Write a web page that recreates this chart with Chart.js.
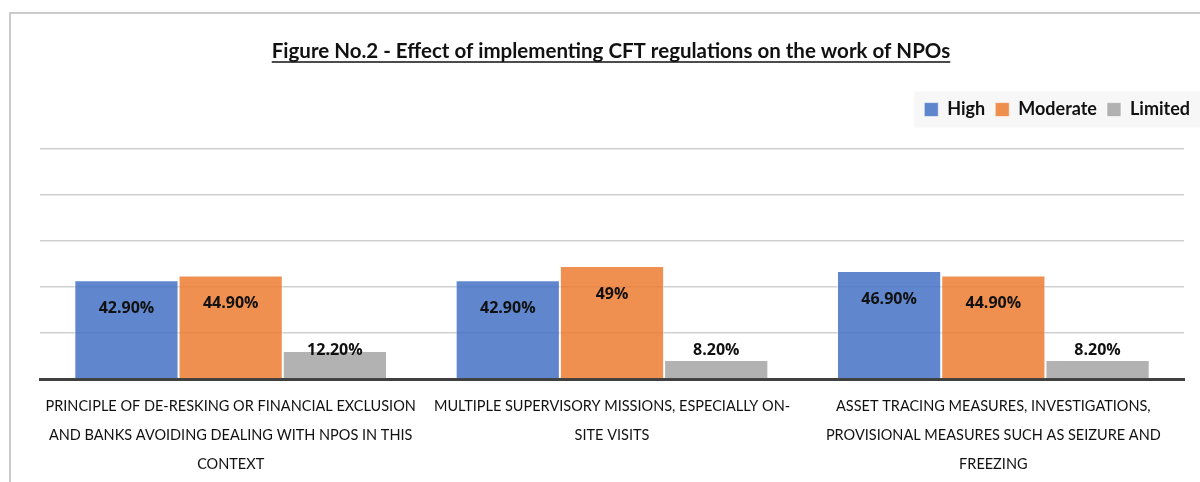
<!DOCTYPE html>
<html>
<head>
<meta charset="utf-8">
<script src="https://cdn.jsdelivr.net/npm/chart.js@4"></script>
<style>
  body { margin: 0; background: #fff; }
  #wrap { position: relative; width: 1200px; height: 482px; }
  #frame { position: absolute; left: 9px; top: 12px; right: 0; bottom: 0; border-top: 2px solid #cbcbcb; border-left: 2px solid #cbcbcb; }
  canvas { position: absolute; left: 0; top: 0; }
</style>
</head>
<body>
<div id="wrap">
  <div id="frame"></div>
  <canvas id="cftChart" width="1200" height="482"></canvas>
</div>
<script>
const categories = [
  ["PRINCIPLE OF DE-RESKING OR FINANCIAL EXCLUSION", "AND BANKS AVOIDING DEALING WITH NPOS IN THIS", "CONTEXT"],
  ["MULTIPLE SUPERVISORY MISSIONS, ESPECIALLY ON-", "SITE VISITS"],
  ["ASSET TRACING MEASURES, INVESTIGATIONS,", "PROVISIONAL MEASURES SUCH AS SEIZURE AND", "FREEZING"]
];
const highValues = [42.9, 42.9, 46.9];
const moderateValues = [44.9, 49, 44.9];
const limitedValues = [12.2, 8.2, 8.2];
const highLabels = ["42.90%", "42.90%", "46.90%"];
const moderateLabels = ["44.90%", "49%", "44.90%"];
const limitedLabels = ["12.20%", "8.20%", "8.20%"];
const yTicks = [0, 20, 40, 60, 80, 100];

const valueLabels = [highLabels, moderateLabels, limitedLabels];

// draws the % labels on the bars
const barLabels = {
  id: "barLabels",
  afterDatasetsDraw(chart) {
    const ctx = chart.ctx;
    const bottom = chart.chartArea.bottom;
    ctx.save();
    ctx.font = "bold 16px 'Open Sans'";
    ctx.fillStyle = "#111";
    ctx.textAlign = "center";
    ctx.textBaseline = "middle";
    chart.data.datasets.forEach((ds, i) => {
      chart.getDatasetMeta(i).data.forEach((bar, j) => {
        const y = Math.min(bar.y + 28, bottom - 29);
        ctx.fillText(valueLabels[i][j], bar.x, y);
      });
    });
    ctx.restore();
  }
};

// grey band behind the legend + underline under the title
const decorations = {
  id: "decorations",
  beforeInit(chart) {
    const fit = chart.legend.fit;
    chart.legend.fit = function () {
      fit.bind(chart.legend)();
      this.height += 20;
    };
  },
  beforeDraw(chart) {
    const boxes = chart.legend.legendHitBoxes;
    if (!boxes || !boxes.length) return;
    const ctx = chart.ctx;
    const first = boxes[0];
    const top = first.top - 9;
    ctx.save();
    ctx.fillStyle = "#f7f7f7";
    ctx.fillRect(first.left - 10, top, chart.width - first.left + 10, first.height + 18);
    ctx.restore();
  },
  afterDraw(chart) {
    const t = chart.titleBlock;
    const ctx = chart.ctx;
    ctx.save();
    ctx.font = "bold 20.5px Lato";
    const w = ctx.measureText(t.options.text).width;
    const cx = t.left + t.width / 2;
    const y = t.top + t.options.padding.top + 23;
    ctx.strokeStyle = "#111";
    ctx.lineWidth = 1.5;
    ctx.beginPath();
    ctx.moveTo(cx - w / 2, y);
    ctx.lineTo(cx + w / 2, y);
    ctx.stroke();
    ctx.restore();
  }
};

const ctx = document.getElementById("cftChart").getContext("2d");
new Chart(ctx, {
  type: "bar",
  data: {
    labels: categories,
    datasets: [
      {
        label: "High",
        data: highValues,
        backgroundColor: "rgba(68,114,196,0.85)",
        borderColor: "rgba(255,255,255,0.6)",
        borderWidth: 1,
      },
      {
        label: "Moderate",
        data: moderateValues,
        backgroundColor: "rgba(237,125,49,0.85)",
        borderColor: "rgba(255,255,255,0.6)",
        borderWidth: 1,
      },
      {
        label: "Limited",
        data: limitedValues,
        backgroundColor: "rgba(165,165,165,0.85)",
        borderColor: "rgba(255,255,255,0.6)",
        borderWidth: 1,
      },
    ],
  },
  options: {
    responsive: false,
    animation: false,
    layout: { padding: { left: 22, right: 0, top: 0, bottom: 0 } },
    datasets: { bar: { barPercentage: 1, categoryPercentage: 0.82 } },
    plugins: {
      title: {
        display: true,
        text: "Figure No.2 - Effect of implementing CFT regulations on the work of NPOs",
        color: "#111",
        font: { family: "Lato", size: 20.5, weight: "bold" },
        padding: { top: 39, bottom: 27 },
      },
      legend: {
        position: "top",
        align: "end",
        labels: {
          boxWidth: 14,
          boxHeight: 14,
          padding: 10,
          color: "#111",
          font: { family: "Lato", size: 18, weight: "bold" },
        },
      },
      tooltip: { enabled: false },
    },
    scales: {
      x: {
        grid: { display: false, drawTicks: false },
        border: { display: true, color: "#404040", width: 3 },
        afterFit(axis) {
          axis.height = 103;
        },
        ticks: {
          color: "#111",
          padding: 13,
          maxRotation: 0,
          autoSkip: false,
          font: { family: "Lato", size: 14.5, lineHeight: 2.0 },
        },
      },
      y: {
        position: "left",
        min: yTicks[0],
        max: yTicks[yTicks.length - 1],
        afterBuildTicks(axis) {
          axis.ticks = yTicks.map((v) => ({ value: v }));
        },
        afterFit(axis) {
          axis.width = 18;
        },
        grid: { color: "#cfcfcf", lineWidth: 1.5, drawTicks: false },
        border: { display: false },
        ticks: { display: false },
      },
      yRight: {
        type: "linear",
        position: "right",
        afterFit(axis) {
          axis.width = 16;
        },
        grid: { display: false, drawTicks: false },
        border: { display: false },
        ticks: { display: false },
      },
    },
  },
  plugins: [barLabels, decorations],
});
</script>
</body>
</html>
